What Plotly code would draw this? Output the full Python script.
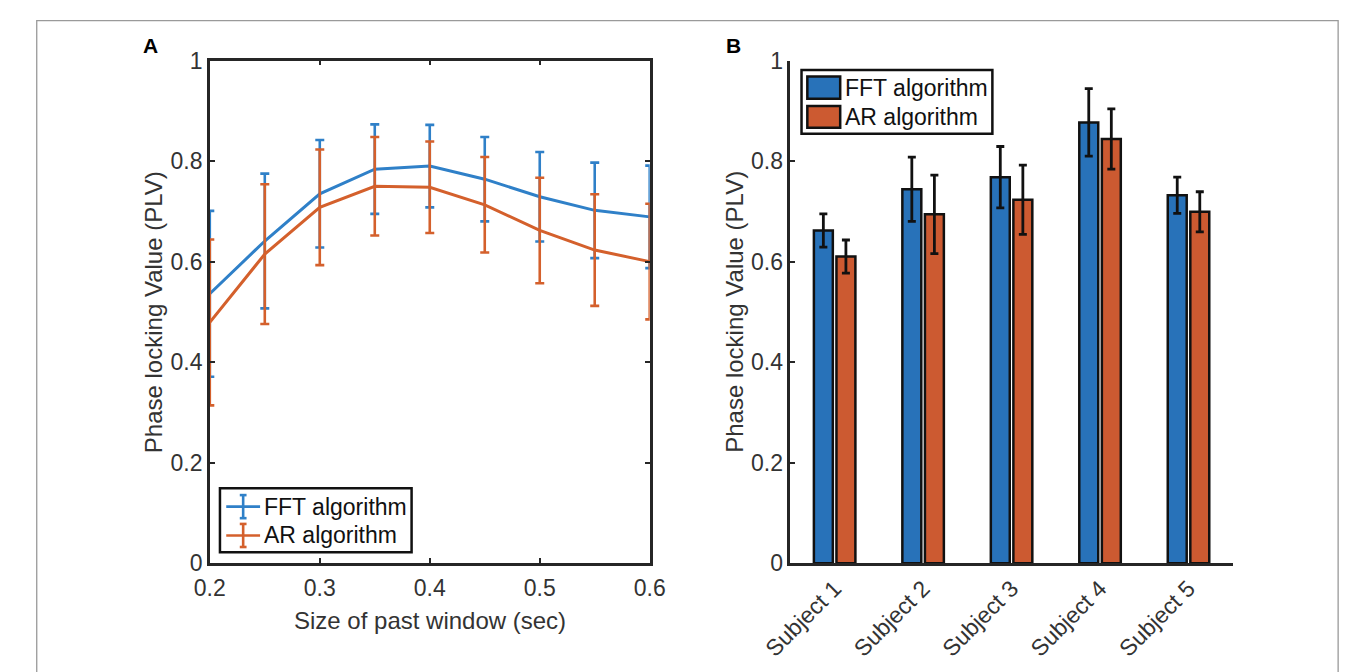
import plotly.graph_objects as go

W, H = 1358, 672

# ---- Panel A: PLV versus size of the past window ----
window_sec = [0.2, 0.25, 0.3, 0.35, 0.4, 0.45, 0.5, 0.55, 0.6]
fft_mean = [0.536, 0.641, 0.735, 0.784, 0.790, 0.764, 0.729, 0.702, 0.689]
fft_err = [0.165, 0.134, 0.107, 0.089, 0.082, 0.084, 0.089, 0.095, 0.102]
ar_mean = [0.479, 0.615, 0.708, 0.750, 0.748, 0.713, 0.662, 0.623, 0.600]
ar_err = [0.165, 0.139, 0.115, 0.098, 0.091, 0.095, 0.105, 0.111, 0.115]

# ---- Panel B: PLV per subject ----
subjects = ["Subject 1", "Subject 2", "Subject 3", "Subject 4", "Subject 5"]
fft_subj = [0.662, 0.744, 0.768, 0.877, 0.732]
fft_subj_err = [0.033, 0.064, 0.061, 0.067, 0.036]
ar_subj = [0.610, 0.694, 0.723, 0.844, 0.699]
ar_subj_err = [0.033, 0.078, 0.069, 0.060, 0.040]

series_names = ["FFT algorithm", "AR algorithm"]
y_ticks = [0, 0.2, 0.4, 0.6, 0.8, 1]
x_ticks = [0.2, 0.3, 0.4, 0.5, 0.6]

LINE_BLUE, LINE_ORANGE = "#2f80c8", "#d4602c"
BAR_BLUE, BAR_ORANGE = "#2872b9", "#cc5a31"
AXIS_COL = "#262626"
TEXT_COL = "#333333"
FONT = "Liberation Sans, Arial, Helvetica, sans-serif"


def px(x):
    return x / W


def py(y):
    return 1 - y / H


fig = go.Figure()

for mean, err, col, name in [
    (fft_mean, fft_err, LINE_BLUE, series_names[0]),
    (ar_mean, ar_err, LINE_ORANGE, series_names[1]),
]:
    fig.add_trace(go.Scatter(
        x=window_sec, y=mean, mode="lines", name=name,
        line=dict(color=col, width=3),
        error_y=dict(type="data", array=err, visible=True, color=col,
                     thickness=2.6, width=4.5),
        xaxis="x", yaxis="y", showlegend=False, cliponaxis=False,
    ))

for vals, err, col, name in [
    (fft_subj, fft_subj_err, BAR_BLUE, series_names[0]),
    (ar_subj, ar_subj_err, BAR_ORANGE, series_names[1]),
]:
    fig.add_trace(go.Bar(
        x=subjects, y=vals, name=name,
        marker=dict(color=col, line=dict(color="#111111", width=2.5)),
        error_y=dict(type="data", array=err, visible=True, color="#111111",
                     thickness=2.8, width=4),
        xaxis="x2", yaxis="y2", showlegend=False,
    ))

y_dom = [py(572.3), py(49.5)]
tickfont = dict(family=FONT, size=23, color=TEXT_COL)
common_axis = dict(showline=True, linecolor=AXIS_COL, linewidth=2.5,
                   showgrid=False, zeroline=False, tickfont=tickfont,
                   tickcolor=AXIS_COL, ticklen=5, tickwidth=2)

fig.update_layout(
    width=W, height=H,
    margin=dict(l=0, r=0, t=0, b=0),
    paper_bgcolor="white", plot_bgcolor="white",
    font=dict(family=FONT, color=TEXT_COL),
    bargap=0.49, bargroupgap=0.16, barmode="group",
    xaxis=dict(domain=[px(187), px(642)], range=[0.2, 0.6],
               tickvals=x_ticks, ticktext=[f"{v:.1f}" for v in x_ticks],
               ticks="inside", mirror="ticks", anchor="y",
               ticklabelstandoff=2, **common_axis),
    yaxis=dict(domain=y_dom, range=[0, 1], tickvals=y_ticks,
               ticktext=["0", "0.2", "0.4", "0.6", "0.8", "1"],
               ticks="inside", mirror="ticks", anchor="x", **common_axis),
    xaxis2=dict(domain=[px(787.5), px(1245)], range=[-0.5, 4.5],
                type="category", ticks="", tickangle=-45, anchor="y2",
                **common_axis),
    yaxis2=dict(domain=y_dom, range=[0, 1], tickvals=y_ticks,
                ticktext=["0", "0.2", "0.4", "0.6", "0.8", "1"],
                ticks="inside", anchor="x2", **common_axis),
)

shapes = []
annotations = []

# Outer frame of the figure
shapes.append(dict(type="rect", xref="paper", yref="paper",
                   x0=px(8), x1=px(1354), y0=-0.1, y1=py(8),
                   line=dict(color="#9a9a9a", width=1.3), layer="below"))

# Panel letters
for letter, x, y in [("A", 126, 33.5), ("B", 728.5, 34)]:
    annotations.append(dict(text=f"<b>{letter}</b>", x=px(x), y=py(y),
                            xref="paper", yref="paper", showarrow=False,
                            xanchor="center", yanchor="middle",
                            font=dict(family=FONT, size=21, color="black")))

# Axis titles
title_font = dict(family=FONT, size=24, color=TEXT_COL)
annotations.append(dict(text="Size of past window (sec)", x=px(414.5), y=py(632),
                        xref="paper", yref="paper", showarrow=False,
                        xanchor="center", yanchor="middle", font=title_font))
for xc in (129.5, 730):
    annotations.append(dict(text="Phase locking Value (PLV)", x=px(xc), y=py(311),
                            xref="paper", yref="paper", showarrow=False,
                            textangle=-90, xanchor="center", yanchor="middle",
                            font=title_font))

legend_font = dict(family=FONT, size=23, color="#111111")

# Legend of panel A (error-bar glyphs)
shapes.append(dict(type="rect", xref="paper", yref="paper",
                   x0=px(197.5), x1=px(395.7), y0=py(561), y1=py(494.3),
                   line=dict(color="#111111", width=2.5), fillcolor="white"))
for row_y, col, name in [(513.5, LINE_BLUE, series_names[0]),
                         (543.5, LINE_ORANGE, series_names[1])]:
    shapes.append(dict(type="line", xref="paper", yref="paper",
                       x0=px(204), x1=px(239), y0=py(row_y), y1=py(row_y),
                       line=dict(color=col, width=2.6)))
    shapes.append(dict(type="line", xref="paper", yref="paper",
                       x0=px(221.5), x1=px(221.5), y0=py(row_y - 12), y1=py(row_y + 12),
                       line=dict(color=col, width=2.6)))
    for cap in (row_y - 12, row_y + 12):
        shapes.append(dict(type="line", xref="paper", yref="paper",
                           x0=px(218), x1=px(225), y0=py(cap), y1=py(cap),
                           line=dict(color=col, width=2.6)))
    annotations.append(dict(text=name, x=px(241), y=py(row_y), xref="paper",
                            yref="paper", showarrow=False, xanchor="left",
                            yanchor="middle", font=legend_font))

# Legend of panel B (bar patches)
shapes.append(dict(type="rect", xref="paper", yref="paper",
                   x0=px(799), x1=px(996.4), y0=py(125.7), y1=py(59.3),
                   line=dict(color="#111111", width=2.5), fillcolor="white"))
for top, bottom, col, name in [(66, 89.3, BAR_BLUE, series_names[0]),
                               (96.7, 119.3, BAR_ORANGE, series_names[1])]:
    shapes.append(dict(type="rect", xref="paper", yref="paper",
                       x0=px(805), x1=px(839), y0=py(bottom), y1=py(top),
                       line=dict(color="#111111", width=2.5), fillcolor=col))
    annotations.append(dict(text=name, x=px(842), y=py((top + bottom) / 2),
                            xref="paper", yref="paper", showarrow=False,
                            xanchor="left", yanchor="middle", font=legend_font))

fig.update_layout(shapes=shapes, annotations=annotations)

fig.write_html("out.html")
